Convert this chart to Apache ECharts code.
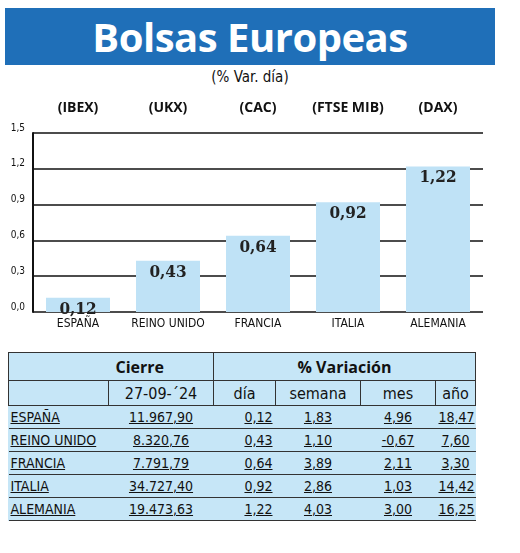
<!DOCTYPE html>
<html><head><meta charset="utf-8">
<script src="https://cdn.jsdelivr.net/npm/echarts@6/dist/echarts.min.js"></script>
<style>
body{margin:0;width:520px;height:553px;background:#fff;position:relative;font-family:"DejaVu Sans Condensed","Liberation Sans",sans-serif;overflow:hidden}
#banner{position:absolute;left:5px;top:8px;width:490px;height:57px;background:#1f6fb8;color:#fff;font:bold 40px "Open Sans",sans-serif;text-align:center;line-height:57px;letter-spacing:-0.5px}
#sub{position:absolute;left:0;width:500px;top:68px;text-align:center;font-size:15px;color:#111}
#chart{position:absolute;left:0;top:95px;width:520px;height:250px}
table{position:absolute;left:8px;top:352px;width:467px;table-layout:fixed;border-collapse:collapse;background:#c6e6f7;font-size:14px;color:#111}
td{border:1px solid #333;padding:0 3px;height:22px;text-align:center;white-space:nowrap;overflow:hidden}
td.c{text-align:left;padding-left:2px}
tr.d td{text-decoration:underline;border-left:none;border-right:none}
tr.h1 td{height:27px;font-weight:bold;font-size:16px;font-family:"Open Sans",sans-serif}
tr.h2 td{height:24px;font-size:16px}
</style></head><body>
<div id="banner">Bolsas Europeas</div>
<div id="sub">(% Var. día)</div>
<div id="chart"></div>
<table id="tbl"></table>
<script>
const countries=["ESPAÑA","REINO UNIDO","FRANCIA","ITALIA","ALEMANIA"];
const indices=["(IBEX)","(UKX)","(CAC)","(FTSE MIB)","(DAX)"];
const dayVar=[0.12,0.43,0.64,0.92,1.22];
const cierre=["11.967,90","8.320,76","7.791,79","34.727,40","19.473,63"];
const dia=["0,12","0,43","0,64","0,92","1,22"];
const semana=["1,83","1,10","3,89","2,86","4,03"];
const mes=["4,96","-0,67","2,11","1,03","3,00"];
const anio=["18,47","7,60","3,30","14,42","16,25"];
const fmt=v=>v.toFixed(2).replace('.',',');
const chart=echarts.init(document.getElementById('chart'));
chart.setOption({
 animation:false,
 grid:{left:33,right:37,top:38,bottom:33},
 xAxis:[{type:'category',data:countries,axisLine:{show:false},axisTick:{show:false},
   axisLabel:{interval:0,color:'#111',fontSize:12,fontFamily:'DejaVu Sans Condensed',margin:6}},
  {type:'category',position:'top',data:indices,axisLine:{show:false},axisTick:{show:false},
   axisLabel:{interval:0,color:'#111',fontSize:14,fontWeight:'bold',fontFamily:'Open Sans',margin:18}}],
 yAxis:{type:'value',min:0,max:1.5,interval:0.3,
  axisLine:{show:true,lineStyle:{color:'#111',width:2}},axisTick:{show:false},
  splitLine:{lineStyle:{color:'#111',width:1.5}},
  axisLabel:{color:'#111',fontSize:10,fontFamily:'DejaVu Sans Condensed',formatter:v=>v.toFixed(1).replace('.',','),margin:8,verticalAlign:'bottom'}},
 series:[{type:'bar',data:dayVar,barWidth:64,itemStyle:{color:'#bfe2f6'},
  label:{show:true,position:'insideTop',formatter:p=>fmt(p.value),color:'#222',fontSize:17,fontWeight:'bold',fontFamily:'DejaVu Serif Condensed',distance:3}}]
});
const t=document.getElementById('tbl');
let h='<colgroup><col style="width:100px"><col style="width:105px"><col style="width:62px"><col style="width:85px"><col style="width:75px"><col style="width:40px"></colgroup>';
h+='<tr class="h1"><td style="border-right:none"></td><td style="border-left:none;text-align:left;padding-left:7px">Cierre</td><td colspan="4">% Variación</td></tr>';
h+='<tr class="h2"><td></td><td>27-09-´24</td><td>día</td><td>semana</td><td>mes</td><td>año</td></tr>';
countries.forEach((c,i)=>{h+=`<tr class="d"><td class="c">${c}</td><td>${cierre[i]}</td><td style="text-align:right">${dia[i]}</td><td>${semana[i]}</td><td>${mes[i]}</td><td>${anio[i]}</td></tr>`;});
t.innerHTML=h;
</script></body></html>
